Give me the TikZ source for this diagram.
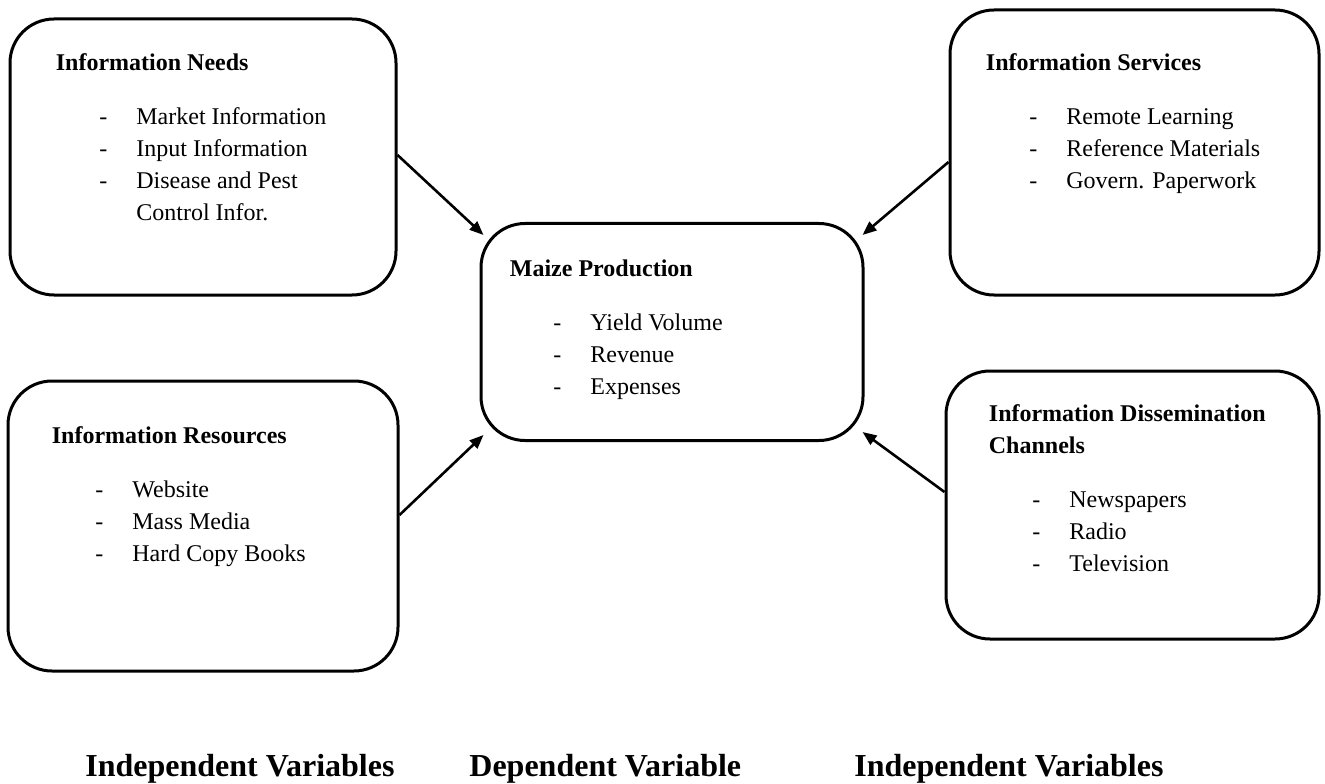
\documentclass[tikz,border=0pt]{standalone}
\usepackage{fontspec}
\setmainfont{Liberation Serif}
\usetikzlibrary{calc,arrows.meta}

\newenvironment{varlist}{\begin{tabular}[t]{@{}p{21.75pt}@{}p{18.5pt}@{}l@{}}}{\end{tabular}}
\newcommand{\vartitle}[1]{\multicolumn{3}{@{}l@{}}{\textbf{#1}}}

\tikzset{
  varbox/.style={draw, line width=1.5pt, rounded corners=22pt, inner sep=0pt},
  vartext/.style={anchor=base west, inner sep=0pt, font=\fontsize{12}{16}\selectfont},
  flow/.style={-{Triangle[length=7pt,width=5.5pt]}, line width=1.3pt},
  groupname/.style={anchor=base west, inner sep=0pt, font=\fontsize{16}{19}\selectfont\bfseries}
}

\begin{document}
\begin{tikzpicture}[x=0.5pt,y=0.5pt]
\useasboundingbox (0,0) rectangle (1325,783);

% boxes
\node[varbox, minimum width=193pt, minimum height=138pt] (needs) at (203,626) {};
\node[varbox, minimum width=184.5pt, minimum height=142.5pt] (services) at (1134.5,630.5) {};
\node[varbox, minimum width=191pt, minimum height=108.5pt] (maize) at (672,451) {};
\node[varbox, minimum width=195pt, minimum height=145pt] (resources) at (203,257) {};
\node[varbox, minimum width=186.5pt, minimum height=134pt] (channels) at (1132.5,278) {};

% box texts
\node[vartext] (needstxt) at ($(needs.north west)+(47,-53)$) {\begin{varlist}
\vartitle{Information Needs}\\[11pt]
 & - & Market Information\\
 & - & Input Information\\
 & - & Disease and Pest\\
 &   & Control Infor.
\end{varlist}};

\node[vartext] (servicestxt) at ($(services.north west)+(37,-62)$) {\begin{varlist}
\vartitle{Information Services}\\[11pt]
 & - & Remote Learning\\
 & - & Reference Materials\\
 & - & Govern. Paperwork
\end{varlist}};

\node[vartext] (maizetxt) at ($(maize.north west)+(30,-54)$) {\begin{varlist}
\vartitle{Maize Production}\\[11pt]
 & - & Yield Volume\\
 & - & Revenue\\
 & - & Expenses
\end{varlist}};

\node[vartext] (resourcestxt) at ($(resources.north west)+(45,-64)$) {\begin{varlist}
\vartitle{Information Resources}\\[11pt]
 & - & Website\\
 & - & Mass Media\\
 & - & Hard Copy Books
\end{varlist}};

\node[vartext] (channelstxt) at ($(channels.north west)+(44,-52)$) {\begin{varlist}
\vartitle{Information Dissemination}\\
\vartitle{Channels}\\[11pt]
 & - & Newspapers\\
 & - & Radio\\
 & - & Television
\end{varlist}};

% arrows into the dependent variable
\draw[flow] ($(needs.east)+(0,2)$) -- ($(maize.north west)+(4,-13)$);
\draw[flow] ($(services.west)+(0,-9.5)$) -- ($(maize.north east)+(-2,-13)$);
\draw[flow] ($(resources.east)+(0,11)$) -- ($(maize.south west)+(4,7)$);
\draw[flow] ($(channels.west)+(0,13)$) -- ($(maize.south east)+(-2,10)$);

% group names
\node[groupname] (indepleft) at (85,7) {Independent Variables};
\node[groupname] (dep) at (469,7) {Dependent Variable};
\node[groupname] (indepright) at (854,7) {Independent Variables};
\end{tikzpicture}
\end{document}
